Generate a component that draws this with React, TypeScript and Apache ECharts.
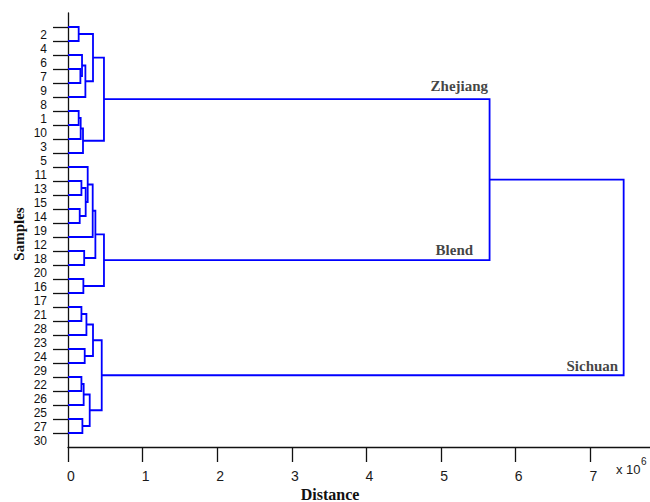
import React, { useEffect, useRef } from "react";
import * as echarts from "echarts";

// Leaf (sample) labels, top to bottom
const leafLabels = [
  "2", "4", "6", "7", "9", "8", "1", "10", "3", "5",
  "11", "13", "15", "14", "19", "12", "18", "20", "16", "17",
  "21", "28", "23", "24", "29", "22", "26", "25", "27", "30",
];

// Linkage: merge k (1-based, referred to as "mk") joins mergeLeft[k-1] and mergeRight[k-1]
// at distance mergeHeight[k-1] (x 10^6). Plain strings are sample labels.
const mergeLeft = [
  "2", "7", "6", "m3", "m1", "1", "m6", "m7", "m5",
  "14", "13", "m11", "11", "m13", "18", "m14", "16", "m16",
  "21", "m19", "24", "m20", "22", "m23", "27", "m24", "m22",
  "m9", "m28",
];
const mergeRight = [
  "4", "9", "m2", "8", "m4", "10", "3", "5", "m8",
  "19", "15", "m10", "m12", "12", "20", "m15", "17", "m17",
  "28", "23", "29", "m21", "26", "25", "30", "m25", "m26",
  "m18", "m27",
];
const mergeHeight = [
  0.143, 0.166, 0.188, 0.233, 0.335, 0.143, 0.170, 0.201, 0.482,
  0.157, 0.180, 0.237, 0.264, 0.331, 0.217, 0.367, 0.206, 0.482,
  0.180, 0.247, 0.224, 0.335, 0.180, 0.210, 0.193, 0.291, 0.452,
  5.65, 7.447,
];

// Cluster names and the merge they label
const clusterNames = ["Zhejiang", "Blend", "Sichuan"];
const clusterMerges = ["m9", "m18", "m27"];

// X-axis tick values
const xTickValues = [0, 1, 2, 3, 4, 5, 6, 7];

function nodePos(id: string, cache: Record<string, [number, number]>): [number, number] {
  if (cache[id]) return cache[id];
  let p: [number, number];
  if (id.startsWith("m")) {
    const k = parseInt(id.slice(1), 10) - 1;
    const a = nodePos(mergeLeft[k], cache);
    const b = nodePos(mergeRight[k], cache);
    p = [mergeHeight[k], (a[1] + b[1]) / 2];
  } else {
    p = [0, leafLabels.indexOf(id) + 1];
  }
  cache[id] = p;
  return p;
}

export default function App() {
  const ref = useRef<HTMLDivElement>(null);

  useEffect(() => {
    document.body.style.margin = "0";
    if (!ref.current) return;
    const chart = echarts.init(ref.current, null, { renderer: "svg" });

    const cache: Record<string, [number, number]> = {};
    const links = mergeHeight.map((h, k) => {
      const a = nodePos(mergeLeft[k], cache);
      const b = nodePos(mergeRight[k], cache);
      return {
        coords: [
          [a[0], a[1]],
          [h, a[1]],
          [h, b[1]],
          [b[0], b[1]],
        ],
      };
    });

    const labelOffsets: Record<string, number[]> = {
      Zhejiang: [-1, -13],
      Blend: [-16, -10],
      Sichuan: [-5, -9.5],
    };

    const clusterData = clusterNames.map((name, i) => {
      const id = clusterMerges[i];
      const node = nodePos(id, cache);
      const parentIdx = mergeLeft.findIndex((l, k) => l === id || mergeRight[k] === id);
      const px = mergeHeight[parentIdx];
      return {
        name,
        value: [px, node[1]],
        label: {
          show: true,
          formatter: name,
          position: "left",
          distance: 0,
          offset: labelOffsets[name],
          fontFamily: "Liberation Serif",
          fontWeight: "bold",
          fontSize: 15,
          color: "#111",
        },
      };
    });

    const yTickValues = leafLabels.map((_, i) => i + 1);
    const axisColor = "#111";
    // Labels in the reference sit about 8 px (0.57 leaf rows) below their ticks
    const labelShift = 0.57;

    chart.setOption({
      animation: false,
      grid: { left: 68, right: 0, top: 13, bottom: 55 },
      xAxis: {
        type: "value",
        min: 0,
        max: 7.8,
        axisLine: { show: true, onZero: false, lineStyle: { color: axisColor, width: 1.3 } },
        axisTick: {
          show: true,
          length: 15,
          customValues: xTickValues,
          lineStyle: { color: axisColor, width: 1.3 },
        },
        axisLabel: {
          customValues: xTickValues,
          margin: 22,
          fontFamily: "Liberation Sans",
          fontSize: 14,
          color: "#1a1a1a",
          padding: [0, 0, 0, 6],
          showMinLabel: true,
          showMaxLabel: true,
        },
        splitLine: { show: false },
      },
      yAxis: [
        {
          type: "value",
          inverse: true,
          min: 0,
          max: 31,
          axisLine: { show: true, onZero: false, lineStyle: { color: axisColor, width: 1.3 } },
          axisTick: {
            show: true,
            length: 15,
            customValues: yTickValues,
            lineStyle: { color: axisColor, width: 1.3 },
          },
          axisLabel: { show: false },
          splitLine: { show: false },
        },
        {
          type: "value",
          position: "left",
          offset: 0,
          inverse: true,
          min: -labelShift,
          max: 31 - labelShift,
          axisLine: { show: false, onZero: false },
          axisTick: { show: false },
          axisLabel: {
            customValues: yTickValues,
            formatter: (v: number) => leafLabels[Math.round(v) - 1] ?? "",
            verticalAlign: "middle",
            lineHeight: 12,
            margin: 21,
            fontFamily: "Liberation Sans",
            fontSize: 12,
            color: "#111",
            showMinLabel: true,
            showMaxLabel: true,
            hideOverlap: false,
          },
          splitLine: { show: false },
        },
      ],
      series: [
        {
          type: "lines",
          coordinateSystem: "cartesian2d",
          yAxisIndex: 0,
          polyline: true,
          silent: true,
          lineStyle: { color: "#0000ff", width: 1.8, opacity: 1 },
          data: links,
        },
        {
          type: "scatter",
          yAxisIndex: 0,
          symbolSize: 1,
          itemStyle: { color: "rgba(0,0,0,0)" },
          silent: true,
          data: clusterData,
        },
      ],
      graphic: [
        {
          type: "text",
          x: 19,
          y: 234,
          rotation: Math.PI / 2,
          style: {
            text: "Samples",
            font: 'bold 15px "Liberation Serif"',
            align: "center",
            verticalAlign: "middle",
            fill: "#111",
          },
        },
        {
          type: "text",
          x: 330,
          y: 494,
          style: {
            text: "Distance",
            font: 'bold 16px "Liberation Serif"',
            align: "center",
            verticalAlign: "middle",
            fill: "#111",
          },
        },
        {
          type: "text",
          x: 616,
          y: 469,
          style: {
            text: "x 10",
            font: '13px "Liberation Sans"',
            align: "left",
            verticalAlign: "middle",
            fill: "#1a1a1a",
          },
        },
        {
          type: "text",
          x: 641,
          y: 461,
          style: {
            text: "6",
            font: '10px "Liberation Sans"',
            align: "left",
            verticalAlign: "middle",
            fill: "#1a1a1a",
          },
        },
      ],
    });

    return () => chart.dispose();
  }, []);

  return <div ref={ref} style={{ width: 650, height: 502 }} />;
}
